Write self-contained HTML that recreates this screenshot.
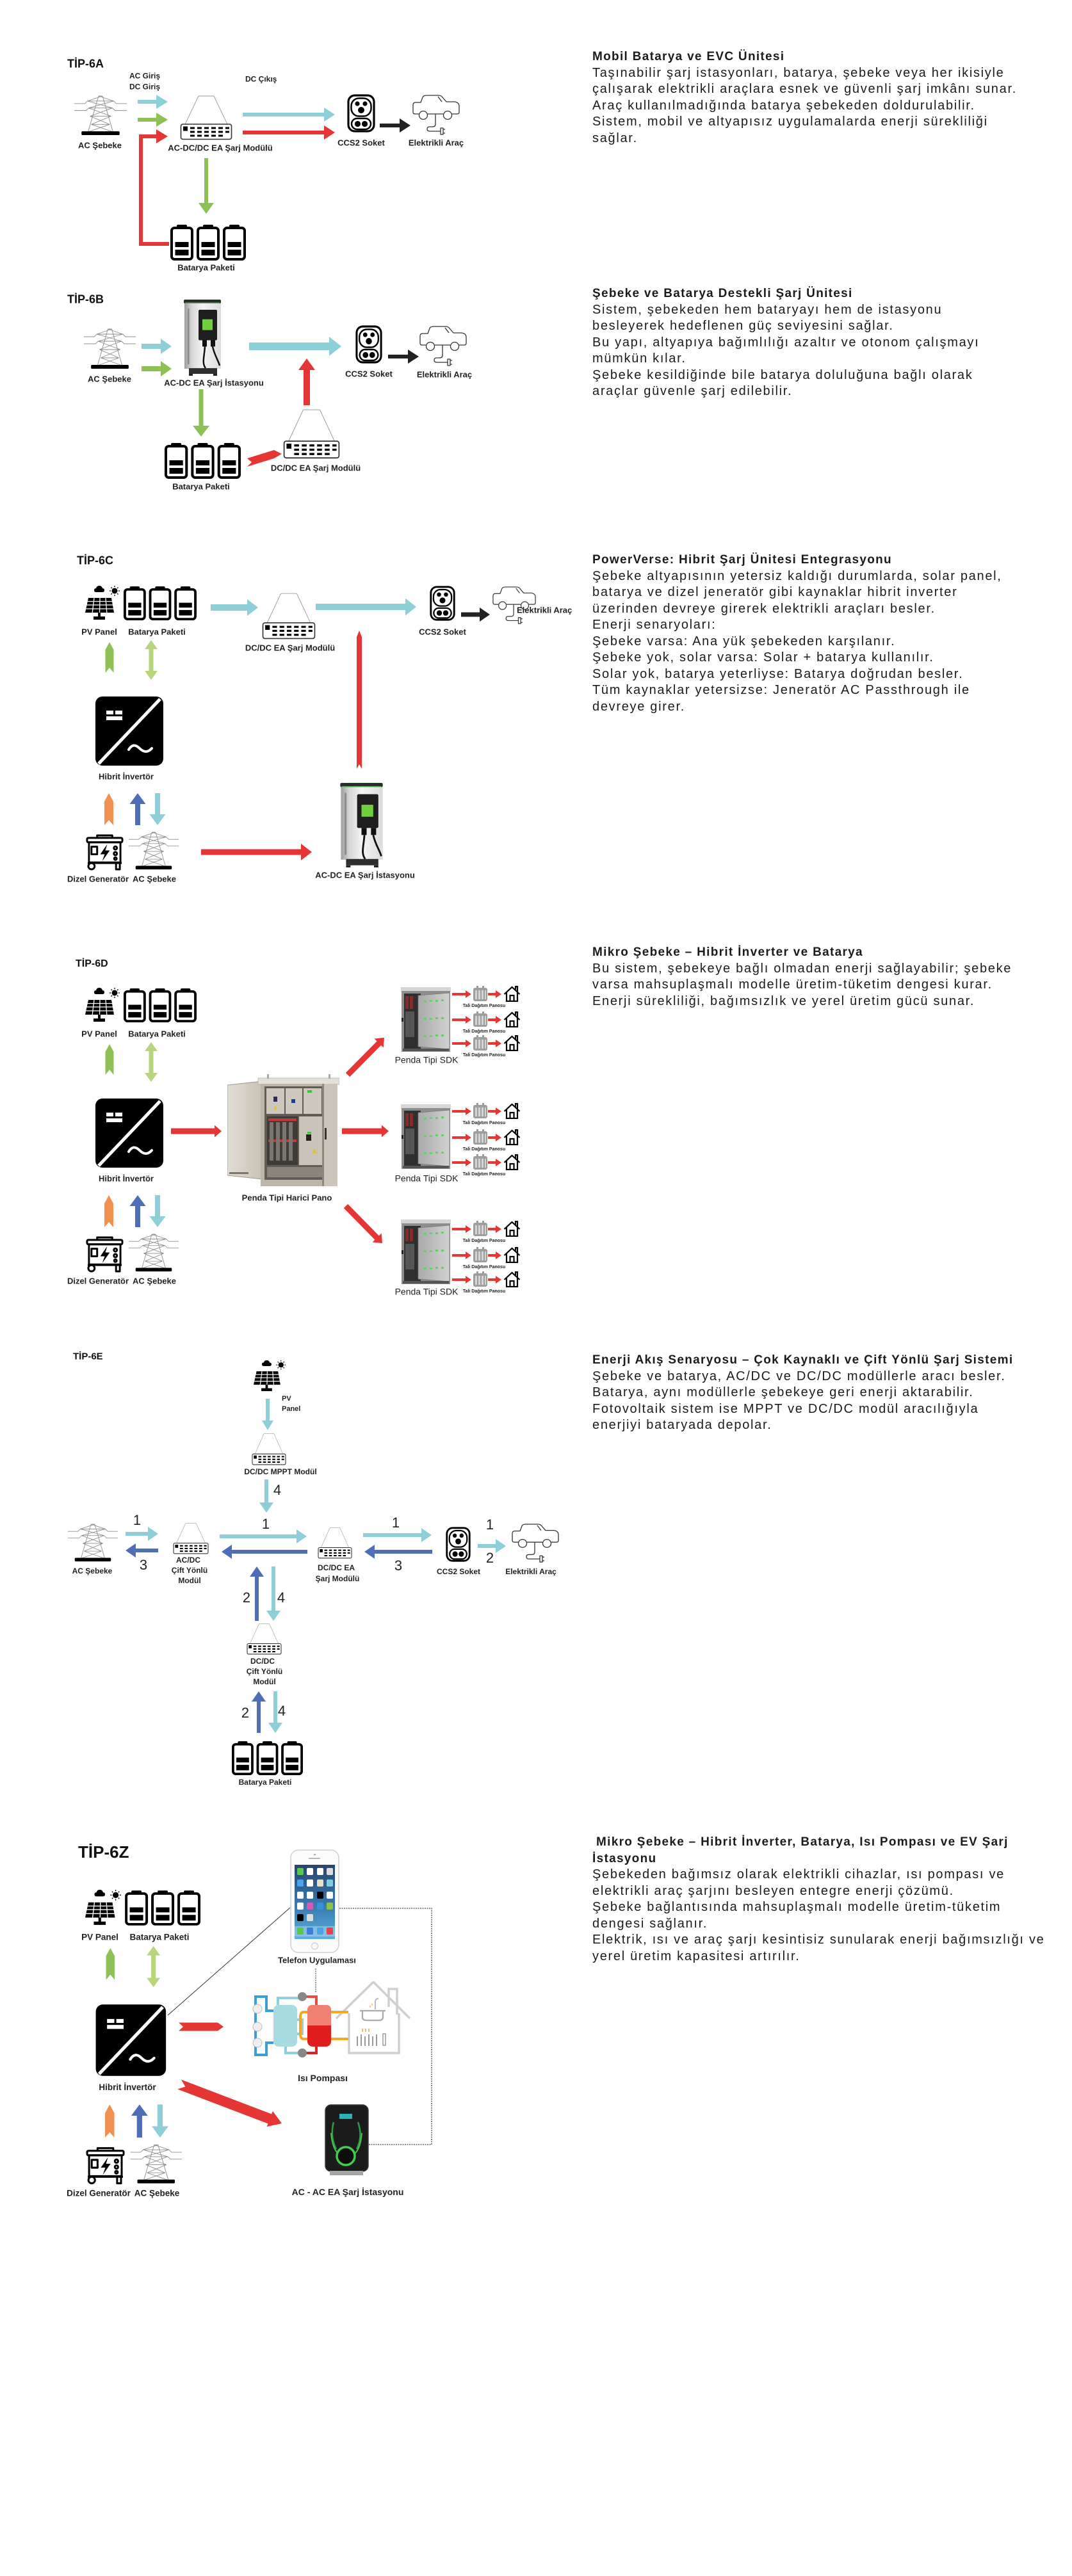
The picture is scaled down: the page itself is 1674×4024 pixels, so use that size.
<!DOCTYPE html>
<html><head><meta charset="utf-8">
<style>
html,body{margin:0;padding:0;background:#fff;}
body{width:1674px;height:4024px;position:relative;overflow:hidden;font-family:"Liberation Sans",Arial,sans-serif;}
svg.main{position:absolute;left:0;top:0;}
.tb{position:absolute;left:925px;color:#1b1b1b;font-size:20px;line-height:25.5px;letter-spacing:1.7px;white-space:nowrap;}
.tb .t{font-weight:bold;font-size:19px;letter-spacing:1.3px;}
</style></head><body>
<svg class="main" width="1674" height="4024" viewBox="0 0 1674 4024" xmlns="http://www.w3.org/2000/svg">
<style>
.l{font-family:"Liberation Sans",Arial,sans-serif;font-weight:bold;font-size:13px;fill:#222;text-anchor:middle;}
.s{font-family:"Liberation Sans",Arial,sans-serif;font-weight:bold;font-size:12px;fill:#222;text-anchor:middle;}
.n{font-family:"Liberation Sans",Arial,sans-serif;font-size:22px;fill:#222;text-anchor:middle;}
.tip{font-family:"Liberation Sans",Arial,sans-serif;font-weight:bold;font-size:18px;fill:#111;}
.tali{font-family:"Liberation Sans",Arial,sans-serif;font-weight:bold;font-size:7px;fill:#222;text-anchor:middle;}
</style>
<defs>
<linearGradient id="stg" x1="0" x2="1"><stop offset="0" stop-color="#9c9c9c"/><stop offset="0.2" stop-color="#d6d6d6"/><stop offset="0.5" stop-color="#f4f4f4"/><stop offset="1" stop-color="#dcdcdc"/></linearGradient>
<linearGradient id="scr" x1="0" y1="0" x2="0" y2="1"><stop offset="0" stop-color="#27446e"/><stop offset="0.6" stop-color="#3b7fb4"/><stop offset="1" stop-color="#5ab2dc"/></linearGradient>
<linearGradient id="door" x1="0" x2="1"><stop offset="0" stop-color="#e2ddd3"/><stop offset="1" stop-color="#c9c2b6"/></linearGradient>
<linearGradient id="sdkd" x1="0" x2="1"><stop offset="0" stop-color="#a9a9a9"/><stop offset="1" stop-color="#d2d2d2"/></linearGradient>

<symbol id="tower" viewBox="0 0 80 64" preserveAspectRatio="none">
<g fill="none" stroke="#8c8c8c" stroke-width="0.9">
<path d="M37 1H43M37 1L21 58M43 1L59 58"/>
<path d="M0 13H16L20 9H60L64 13H80"/>
<path d="M0 24H18L22 20H58L62 24H80"/>
<path d="M37 1L60 9M43 1L20 9M20 9L58 20M60 9L22 20M22 20L56 33M58 20L24 33M24 33H56M24 33L54 46M56 33L26 46M26 46H54M26 46L59 58M54 46L21 58"/>
</g>
<rect x="11" y="57" width="58" height="6" rx="1.5" fill="#000"/>
</symbol>

<symbol id="module" viewBox="0 0 82 70" preserveAspectRatio="none">
<path d="M29 1H53M29 1L8 45M53 1L74 45" fill="none" stroke="#9a9a9a" stroke-width="0.9"/>
<rect x="1.5" y="45" width="79" height="23.5" rx="3" fill="#fff" stroke="#333" stroke-width="1.6"/>
<rect x="5" y="48.5" width="7" height="7" fill="#000"/>
<g fill="#000">
<rect x="16" y="49.5" width="7" height="3"/><rect x="27" y="49.5" width="7" height="3"/><rect x="38" y="49.5" width="7" height="3"/><rect x="49" y="49.5" width="7" height="3"/><rect x="60" y="49.5" width="7" height="3"/><rect x="71" y="49.5" width="6" height="3"/>
<rect x="16" y="55.5" width="7" height="3"/><rect x="27" y="55.5" width="7" height="3"/><rect x="38" y="55.5" width="7" height="3"/><rect x="49" y="55.5" width="7" height="3"/><rect x="60" y="55.5" width="7" height="3"/><rect x="71" y="55.5" width="6" height="3"/>
<rect x="16" y="61.5" width="7" height="3"/><rect x="27" y="61.5" width="7" height="3"/><rect x="38" y="61.5" width="7" height="3"/><rect x="49" y="61.5" width="7" height="3"/><rect x="60" y="61.5" width="7" height="3"/>
</g>
</symbol>

<symbol id="ccs" viewBox="0 0 44 60" preserveAspectRatio="none">
<rect x="2" y="2" width="40" height="56" rx="10" fill="#fff" stroke="#000" stroke-width="3.2"/>
<rect x="6.5" y="6.5" width="31" height="28" rx="12" fill="none" stroke="#000" stroke-width="2.5"/>
<circle cx="16" cy="15" r="3.6"/><circle cx="28" cy="15" r="3.6"/><circle cx="22" cy="25" r="5"/>
<rect x="7" y="38" width="30" height="17" rx="8.5" fill="none" stroke="#000" stroke-width="2.5"/>
<circle cx="16.5" cy="46.5" r="4.6"/><circle cx="27.5" cy="46.5" r="4.6"/>
</symbol>

<symbol id="car" viewBox="0 0 74 64" preserveAspectRatio="none">
<g fill="none" stroke="#333" stroke-width="1.3" stroke-linejoin="round">
<path d="M10 30H4Q1 30 1 27V16Q1 12 5 12H13L16 4Q17 1 22 1H41Q45 1 47 4L53 11H66Q73 12 73 18V27Q73 30 70 30H62"/>
<path d="M48 30H24"/>
<circle cx="17" cy="32" r="6.5"/>
<circle cx="55" cy="32" r="6.5"/>
<path d="M40 3L46 11"/>
<path d="M36 30V46Q36 50 31 50H27Q23 50 23 53.5Q23 57 27 57H44"/>
<path d="M44 52H48V62H44Z"/>
<path d="M48 54H51M48 60H51"/>
</g>
</symbol>

<symbol id="bat3" viewBox="0 0 118 56" preserveAspectRatio="none">
<g>
<rect x="10" y="0" width="16" height="7" rx="2"/>
<rect x="2" y="5" width="32" height="49" rx="4.5" fill="#fff" stroke="#000" stroke-width="4"/>
<rect x="7.5" y="27" width="21" height="8"/><rect x="7.5" y="39" width="21" height="9"/>
</g>
<g transform="translate(41,0)">
<rect x="10" y="0" width="16" height="7" rx="2"/>
<rect x="2" y="5" width="32" height="49" rx="4.5" fill="#fff" stroke="#000" stroke-width="4"/>
<rect x="7.5" y="27" width="21" height="8"/><rect x="7.5" y="39" width="21" height="9"/>
</g>
<g transform="translate(82,0)">
<rect x="10" y="0" width="16" height="7" rx="2"/>
<rect x="2" y="5" width="32" height="49" rx="4.5" fill="#fff" stroke="#000" stroke-width="4"/>
<rect x="7.5" y="27" width="21" height="8"/><rect x="7.5" y="39" width="21" height="9"/>
</g>
</symbol>

<symbol id="pv" viewBox="0 0 57 55" preserveAspectRatio="none">
<path d="M17 11Q14 11 14 8Q14 5 17 5Q18 1 22 1Q26 1 27 5Q30 5 30 8Q30 11 27 11Z" fill="#000"/>
<circle cx="46" cy="9" r="4.5" fill="#000"/>
<path d="M46 1V3M46 15V17M38 9H40M52 9H54M40.5 3.5L42 5M50 13L51.5 14.5M51.5 3.5L50 5M42 13L40.5 14.5" stroke="#000" stroke-width="1.3"/>
<polygon points="5,20 41,20 45,43 0,43" fill="#000"/>
<path d="M3.8 25.5H42M2.5 31H43M1.2 37H44M14 20L11.2 43M23 20L22.5 43M32 20L33.8 43" stroke="#fff" stroke-width="1.3"/>
<rect x="20" y="43" width="4" height="7" fill="#000"/>
<rect x="13" y="49" width="18" height="5" fill="#000"/>
</symbol>

<symbol id="inv" viewBox="0 0 106 108" preserveAspectRatio="none">
<rect width="106" height="108" rx="11" fill="#000"/>
<path d="M101 4L5 105" stroke="#fff" stroke-width="5"/>
<rect x="17" y="22" width="11" height="6" fill="#fff"/>
<rect x="31" y="22" width="11" height="6" fill="#fff"/>
<rect x="17" y="31" width="25" height="6" fill="#fff"/>
<path d="M52 83Q59 71 69 81T88 81" stroke="#fff" stroke-width="4" fill="none" stroke-linecap="round"/>
</symbol>

<symbol id="gen" viewBox="0 0 60 58" preserveAspectRatio="none">
<g fill="none" stroke="#000" stroke-width="3" stroke-linejoin="round">
<path d="M18 6V2H42V6"/>
<rect x="2" y="6" width="56" height="7" rx="2"/>
<rect x="5" y="13" width="50" height="32"/>
<rect x="9" y="20" width="9" height="12"/>
<circle cx="47" cy="22" r="2.5"/><circle cx="47" cy="31" r="2.5"/><circle cx="47" cy="39" r="2"/>
<path d="M3 46H57"/>
<circle cx="9" cy="51" r="5"/>
<path d="M48 47V56H54V47"/>
</g>
<path d="M34 16L23 32H30L26 43L38 26H31Z" fill="#000"/>
</symbol>

<symbol id="station" viewBox="0 0 62 120" preserveAspectRatio="none">
<rect x="2" y="0" width="58" height="6" rx="2" fill="#2b2b2b"/>
<rect x="4" y="4.5" width="54" height="1.5" fill="#4cae4c"/>
<rect x="3" y="6" width="57" height="103" fill="url(#stg)"/>
<rect x="8" y="14" width="2.5" height="88" fill="#8a8a8a"/>
<rect x="25" y="16" width="29" height="48" rx="2" fill="#1e1e1e"/>
<rect x="31" y="31" width="16" height="17" fill="#6fd03c"/>
<path d="M31 64h7v10h-7zM44 64h7v10h-7z" fill="#111"/>
<path d="M35 74C34 90 30 100 36 108" stroke="#111" stroke-width="2.5" fill="none"/>
<path d="M47 74C50 88 56 96 58 104" stroke="#111" stroke-width="2.5" fill="none"/>
<rect x="10" y="108" width="44" height="9" fill="#2e2e2e"/>
<path d="M10 117h6v3h-6zM48 117h6v3h-6z" fill="#222"/>
</symbol>

<symbol id="cab" viewBox="0 0 175 178" preserveAspectRatio="none">
<polygon points="0,18 54,12 54,165 0,159" fill="url(#door)" stroke="#9d968b" stroke-width="1"/>
<rect x="3" y="154" width="30" height="3" fill="#777"/>
<rect x="48" y="7" width="127" height="10" fill="#e4e0d9" stroke="#b8b2a8" stroke-width="0.8"/>
<rect x="62" y="1" width="3" height="7" fill="#aaa"/><rect x="158" y="1" width="3" height="7" fill="#aaa"/>
<rect x="52" y="16" width="120" height="160" fill="#bcb5aa"/>
<rect x="58" y="20" width="92" height="146" fill="#5f5b55"/>
<rect x="61" y="23" width="28" height="40" fill="#cdc7bd"/>
<rect x="91" y="23" width="26" height="40" fill="#cdc7bd"/>
<rect x="119" y="23" width="28" height="40" fill="#cdc7bd"/>
<rect x="72" y="36" width="6" height="8" fill="#2a2a60"/>
<rect x="125" y="26" width="7" height="4" fill="#3ec43e"/>
<rect x="100" y="40" width="6" height="6" fill="#1e3c9e"/>
<polygon points="72,56 75,50 78,56" fill="#e8c02a"/>
<rect x="62" y="67" width="48" height="76" fill="#3f3c38"/>
<rect x="64" y="70" width="44" height="4" fill="#c23a3a"/>
<rect x="64" y="103" width="44" height="4" fill="#c23a3a"/>
<rect x="66" y="76" width="6" height="60" fill="#7a766f"/><rect x="76" y="76" width="6" height="60" fill="#7a766f"/><rect x="86" y="76" width="6" height="60" fill="#7a766f"/><rect x="96" y="76" width="6" height="60" fill="#7a766f"/>
<rect x="112" y="67" width="36" height="76" fill="#c9c3b9"/>
<rect x="123" y="95" width="8" height="10" fill="#222"/><rect x="125" y="91" width="6" height="3" fill="#3ec43e"/>
<polygon points="132,125 136,117 140,125" fill="#e8c02a"/>
<rect x="62" y="146" width="86" height="16" fill="#8a857c"/>
<rect x="150" y="16" width="22" height="160" fill="#cbc5bb"/>
<rect x="148" y="16" width="3" height="160" fill="#8d877d"/>
<rect x="152" y="85" width="3" height="18" fill="#333"/>
</symbol>

<symbol id="sdk" viewBox="0 0 78 102" preserveAspectRatio="none">
<rect x="0" y="0" width="78" height="7" fill="#d6d6d6"/>
<rect x="1" y="6" width="76" height="95" fill="#8d8d8d"/>
<rect x="5" y="10" width="26" height="86" fill="#2f2f2f"/>
<rect x="7" y="14" width="5" height="20" fill="#8a2b2b"/><rect x="14" y="14" width="5" height="20" fill="#8a2b2b"/>
<rect x="7" y="38" width="14" height="40" fill="#555"/>
<polygon points="27,13 76,9 76,97 27,93" fill="url(#sdkd)" stroke="#777" stroke-width="0.7"/>
<g fill="#5fd35f">
<rect x="36" y="21" width="4" height="3"/><rect x="45" y="20" width="4" height="3"/><rect x="54" y="20" width="4" height="3"/><rect x="63" y="19" width="4" height="3"/>
<rect x="36" y="48" width="4" height="3"/><rect x="45" y="48" width="4" height="3"/><rect x="54" y="47" width="4" height="3"/><rect x="63" y="47" width="4" height="3"/>
<rect x="36" y="75" width="4" height="3"/><rect x="45" y="75" width="4" height="3"/><rect x="54" y="74" width="4" height="3"/><rect x="63" y="74" width="4" height="3"/>
</g>
<rect x="3" y="96" width="72" height="4" fill="#555"/>
<rect x="1" y="48" width="3" height="6" fill="#222"/>
</symbol>

<symbol id="tali" viewBox="0 0 24 25" preserveAspectRatio="none">
<rect x="6" y="0" width="3" height="4" fill="#999"/><rect x="15" y="0" width="3" height="4" fill="#999"/>
<rect x="1" y="3" width="22" height="21" rx="3" fill="#9e9e9e"/>
<rect x="4" y="7" width="3" height="14" fill="#d4d4d4"/><rect x="9" y="7" width="3" height="14" fill="#d4d4d4"/><rect x="14" y="7" width="3" height="14" fill="#d4d4d4"/><rect x="19" y="7" width="2" height="14" fill="#d4d4d4"/>
</symbol>

<symbol id="house" viewBox="0 0 27 25" preserveAspectRatio="none">
<g fill="none" stroke="#000" stroke-width="2.2">
<path d="M1.5 13L13.5 2L25.5 13"/>
<path d="M5 10V24H22V10"/>
<path d="M10.5 24V15H16.5V24"/>
<path d="M19 6V1H22V9"/>
</g>
</symbol>

<symbol id="phone" viewBox="0 0 77 162" preserveAspectRatio="none">
<rect x="1" y="1" width="75" height="160" rx="12" fill="#fbfbfb" stroke="#cfcfcf" stroke-width="1.5"/>
<rect x="29" y="13" width="18" height="2" rx="1" fill="#b5b5b5"/>
<circle cx="38.5" cy="8" r="1.3" fill="#999"/>
<rect x="7" y="24" width="63" height="116" fill="url(#scr)"/>
<rect x="11" y="29" width="10" height="11" rx="2" fill="#5ac84e"/><rect x="26" y="29" width="10" height="11" rx="2" fill="#fff"/><rect x="42" y="29" width="10" height="11" rx="2" fill="#fff"/><rect x="57" y="29" width="10" height="11" rx="2" fill="#ddd"/>
<rect x="11" y="47" width="10" height="11" rx="2" fill="#4aa3e8"/><rect x="26" y="47" width="10" height="11" rx="2" fill="#fff"/><rect x="42" y="47" width="10" height="11" rx="2" fill="#e8e1c9"/><rect x="57" y="47" width="10" height="11" rx="2" fill="#7fd0e3"/>
<rect x="11" y="66" width="10" height="11" rx="2" fill="#fff"/><rect x="26" y="66" width="10" height="11" rx="2" fill="#fff"/><rect x="42" y="66" width="10" height="11" rx="2" fill="#000"/><rect x="57" y="66" width="10" height="11" rx="2" fill="#fff"/>
<rect x="11" y="83" width="10" height="11" rx="2" fill="#fff"/><rect x="26" y="83" width="10" height="11" rx="2" fill="#d45bb3"/><rect x="42" y="83" width="10" height="11" rx="2" fill="#3a8fd9"/><rect x="57" y="83" width="10" height="11" rx="2" fill="#8bc34a"/>
<rect x="11" y="101" width="10" height="11" rx="2" fill="#000"/><rect x="26" y="101" width="10" height="11" rx="2" fill="#ddd"/>
<rect x="7" y="120" width="63" height="16" fill="#a8cfe8" opacity="0.6"/>
<rect x="11" y="122" width="10" height="11" rx="2" fill="#5ac84e"/><rect x="26" y="122" width="10" height="11" rx="2" fill="#3a7fd9"/><rect x="42" y="122" width="10" height="11" rx="2" fill="#4aa3e8"/><rect x="57" y="122" width="10" height="11" rx="2" fill="#e8434a"/>
<circle cx="38.5" cy="151" r="5" fill="none" stroke="#ccc" stroke-width="1.2"/>
</symbol>

<symbol id="heat" viewBox="0 0 249 119" preserveAspectRatio="none">
<path d="M131 58L189 1L246 58" fill="none" stroke="#cfcfcf" stroke-width="3.5"/>
<path d="M151 50V112H229V50" fill="none" stroke="#cfcfcf" stroke-width="3.5"/>
<path d="M213 40V12H226V52" fill="none" stroke="#cfcfcf" stroke-width="3.5"/>
<path d="M168 46H208M172 46V56Q172 61 178 61H198Q204 61 204 56V46" stroke="#aaa" fill="none" stroke-width="2.2"/>
<path d="M192 44V32Q192 27 197 27" stroke="#aaa" fill="none" stroke-width="1.6"/>
<path d="M187 35V38M184 38V41" stroke="#f3c13a" stroke-width="1.5"/>
<path d="M164 86V101M170 83V101M176 86V101M182 83V101M188 86V101M194 83V101" stroke="#999" stroke-width="2"/>
<rect x="204" y="82" width="4" height="18" fill="none" stroke="#999" stroke-width="1.5"/>
<path d="M172 74V79M177 74V79M182 74V79" stroke="#f3a33a" stroke-width="1.5"/>
<path d="M33 46H22V24H5V115H22V96H33" fill="none" stroke="#3a9edb" stroke-width="4"/>
<circle cx="8" cy="43" r="7" fill="#eee" stroke="#bbb"/><circle cx="8" cy="71" r="7" fill="#eee" stroke="#bbb"/><circle cx="8" cy="96" r="7" fill="#eee" stroke="#bbb"/>
<path d="M40 37V26H78M70 60H78V82H70M52 102V112H78" fill="none" stroke="#8fd0e0" stroke-width="4"/>
<rect x="33" y="37" width="37" height="65" rx="8" fill="#a9dbe3"/>
<path d="M78 24H100V37" fill="none" stroke="#e84c3d" stroke-width="4"/>
<path d="M78 112H100V102" fill="none" stroke="#e02222" stroke-width="4"/>
<path d="M86 48H80Q75 48 75 56V82Q75 90 80 90H86M123 48H150M123 90H150" fill="none" stroke="#f5a623" stroke-width="4"/>
<rect x="86" y="37" width="37" height="65" rx="8" fill="#e01e1e"/>
<path d="M86 69V45Q86 37 94 37H115Q123 37 123 45V69Z" fill="#f08070"/>
<circle cx="78" cy="24" r="7" fill="#888"/><circle cx="78" cy="112" r="7" fill="#888"/>
</symbol>

<symbol id="wallbox" viewBox="0 0 69 112" preserveAspectRatio="none">
<rect x="1" y="1" width="67" height="104" rx="9" fill="#1b1b1b" stroke="#3a3a3a" stroke-width="1.5"/>
<rect x="23" y="15" width="20" height="8" fill="#2bb3b8"/>
<path d="M14 28Q8 50 18 70" stroke="#2e9e46" stroke-width="2.5" fill="none"/>
<path d="M52 28Q60 50 50 70" stroke="#2e9e46" stroke-width="2.5" fill="none"/>
<path d="M10 45Q12 70 22 78M58 45Q56 70 46 78" stroke="#49c24a" stroke-width="2" fill="none"/>
<circle cx="33" cy="81" r="14" fill="#0d0d0d" stroke="#3fd04a" stroke-width="3.5"/>
<rect x="8" y="104" width="52" height="7" fill="#a5a5a5"/>
</symbol>

<g id="leftcol">
<use href="#pv" x="133" y="914" width="57" height="55"/>
<use href="#bat3" x="193" y="916" width="114" height="53"/>
<polygon fill="#8dc055" points="171,1003 177.5,1015 177.5,1051 171,1043 164.5,1051 164.5,1015"/>
<polygon fill="#b7d57b" points="236,1000 246,1014 239.5,1014 239.5,1048 246,1048 236,1062 226,1048 232.5,1048 232.5,1014 226,1014"/>
<use href="#inv" x="149" y="1088" width="106" height="108"/>
<polygon fill="#f0914f" points="170,1239 177,1252 177,1289 170,1281 163,1289 163,1252"/>
<polygon fill="#4e6fb5" points="215,1239 227.5,1256 219,1256 219,1289 211,1289 211,1256 202.5,1256"/>
<polygon fill="#8ccfd9" points="242,1239 250,1239 250,1272 258.5,1272 246,1289 233.5,1272 242,1272"/>
<use href="#gen" x="134" y="1303" width="59" height="57"/>
<use href="#tower" x="201" y="1299" width="78" height="60"/>
</g>

<g id="trow">
<polygon fill="#e53535" points="706,-2 727,-2 727,-6 736,0 727,6 727,2 706,2"/>
<use href="#tali" x="738" y="-13" width="24" height="25"/>
<polygon fill="#e53535" points="762,-2 774,-2 774,-6 783,0 774,6 774,2 762,2"/>
<use href="#house" x="786" y="-13" width="27" height="25"/>
</g>
</defs>

<!-- ===== TİP-6A ===== -->
<text class="tip" x="105" y="105.5">TİP-6A</text>
<text class="s" x="202" y="122.5" style="text-anchor:start">AC Giriş</text>
<text class="s" x="202" y="139.5" style="text-anchor:start">DC Giriş</text>
<text class="s" x="383" y="127.5" style="text-anchor:start">DC Çıkış</text>
<use href="#tower" x="116" y="149" width="82" height="63"/>
<text class="l" x="156" y="231.5">AC Şebeke</text>
<polygon fill="#8ccfd9" points="215,156 244,156 244,148 262,159 244,170 244,162 215,162"/>
<polygon fill="#8dc055" points="215,184 244,184 244,176 262,187 244,198 244,190 215,190"/>
<polygon fill="#e53535" points="217,210 244,210 244,202 262,213 244,224 244,216 217,216"/>
<polyline points="220,211 220,381 264,381" fill="none" stroke="#e53535" stroke-width="6"/>
<use href="#module" x="281" y="149" width="82" height="70"/>
<text class="l" x="344" y="235.5">AC-DC/DC EA Şarj Modülü</text>
<polygon fill="#8ccfd9" points="379,176 506,176 506,168 523,179 506,190 506,182 379,182"/>
<polygon fill="#e53535" points="379,204 506,204 506,196 523,207 506,218 506,210 379,210"/>
<use href="#ccs" x="542" y="147" width="44" height="60"/>
<polygon fill="#222" points="593,193 624,193 624,185 641,196 624,207 624,199 593,199"/>
<use href="#car" x="644" y="148" width="74" height="64"/>
<text class="l" x="564" y="227.5">CCS2 Soket</text>
<text class="l" x="681" y="227.5">Elektrikli Araç</text>
<polygon fill="#8dc055" points="319,247 325,247 325,317 334,317 322,334 310,317 319,317"/>
<use href="#bat3" x="266" y="351" width="118" height="56"/>
<text class="l" x="322" y="422.5">Batarya Paketi</text>

<!-- ===== TİP-6B ===== -->
<text class="tip" x="105" y="473.5">TİP-6B</text>
<use href="#tower" x="131" y="513" width="81" height="64"/>
<text class="l" x="171" y="596.5">AC Şebeke</text>
<polygon fill="#8ccfd9" points="221,537 251,537 251,529 268,541 251,553 251,545 221,545"/>
<polygon fill="#8dc055" points="221,572 251,572 251,564 268,576 251,588 251,580 221,580"/>
<use href="#station" x="285" y="468" width="62" height="119"/>
<text class="l" x="334" y="602.5">AC-DC EA Şarj İstasyonu</text>
<polygon fill="#8ccfd9" points="389,535 514,535 514,526 533,541 514,556 514,547 389,547"/>
<use href="#ccs" x="555" y="508" width="42" height="60"/>
<text class="l" x="576" y="588.5">CCS2 Soket</text>
<polygon fill="#222" points="606,554 637,554 637,546 654,557 637,568 637,560 606,560"/>
<use href="#car" x="655" y="509" width="74" height="64"/>
<text class="l" x="694" y="589.5">Elektrikli Araç</text>
<polygon fill="#e53535" points="474,633 474,578 466,578 479,560 492,578 484,578 484,633"/>
<polygon fill="#8dc055" points="310.5,608 317.5,608 317.5,665 327,665 314,682 301,665 310.5,665"/>
<use href="#bat3" x="257" y="692" width="119" height="56"/>
<text class="l" x="314" y="764.5">Batarya Paketi</text>
<use href="#module" x="442" y="639" width="89" height="78"/>
<text class="l" x="493" y="735.5">DC/DC EA Şarj Modülü</text>
<polygon fill="#e53535" points="386,716 428,703 440,709 428,716 386,729 393,722"/>

<!-- ===== TİP-6C ===== -->
<text class="tip" x="120" y="881.5">TİP-6C</text>
<use href="#leftcol"/>
<text class="l" x="155" y="991.5">PV Panel</text>
<text class="l" x="245" y="991.5">Batarya Paketi</text>
<text class="l" x="197" y="1217.5">Hibrit İnvertör</text>
<text class="l" x="153" y="1377.5">Dizel Generatör</text>
<text class="l" x="241" y="1377.5">AC Şebeke</text>
<polygon fill="#8ccfd9" points="329,944 386,944 386,936 403,949 386,962 386,954 329,954"/>
<use href="#module" x="409" y="926" width="84" height="73"/>
<text class="l" x="453" y="1016.5">DC/DC EA Şarj Modülü</text>
<polygon fill="#8ccfd9" points="493,943 633,943 633,934.5 650,948 633,961.5 633,953 493,953"/>
<use href="#ccs" x="671" y="915" width="40" height="55"/>
<text class="l" x="691" y="991.5">CCS2 Soket</text>
<polygon fill="#222" points="720,956.5 749,956.5 749,949 765,960 749,971 749,963.5 720,963.5"/>
<use href="#car" x="769" y="916" width="68" height="60"/>
<text class="l" x="807" y="957.5" style="text-anchor:start">Elektrikli Araç</text>
<polygon fill="#e53535" points="561,985 565,995 565,1201 561,1194 557,1201 557,995"/>
<polygon fill="#e53535" points="314,1326.5 470,1326.5 470,1318 487,1331 470,1344 470,1335.5 314,1335.5"/>
<use href="#station" x="529" y="1223" width="71" height="132"/>
<text class="l" x="570" y="1371.5">AC-DC EA Şarj İstasyonu</text>

<!-- ===== TİP-6D ===== -->
<text class="tip" x="118" y="1510" style="font-size:16px">TİP-6D</text>
<use href="#leftcol" y="628"/>
<text class="l" x="155" y="1619.5">PV Panel</text>
<text class="l" x="245" y="1619.5">Batarya Paketi</text>
<text class="l" x="197" y="1845.5">Hibrit İnvertör</text>
<text class="l" x="153" y="2005.5">Dizel Generatör</text>
<text class="l" x="241" y="2005.5">AC Şebeke</text>
<polygon fill="#e53535" points="267,1762.5 335,1762.5 335,1757.5 346,1767 335,1776.5 335,1771.5 267,1771.5"/>
<use href="#cab" x="355" y="1677" width="175" height="178"/>
<text class="l" x="448" y="1875.5">Penda Tipi Harici Pano</text>
<polygon fill="#e53535" points="534,1762.5 596,1762.5 596,1757.5 607,1767 596,1776.5 596,1771.5 534,1771.5"/>
<line x1="543" y1="1679" x2="593" y2="1628.5" stroke="#e53535" stroke-width="9"/>
<polygon fill="#e53535" points="600,1621 598.7,1636.5 584.5,1622.5"/>
<line x1="540" y1="1884" x2="590" y2="1935" stroke="#e53535" stroke-width="9"/>
<polygon fill="#e53535" points="597,1942 581.5,1940.5 595.7,1926.5"/>
<use href="#sdk" x="626" y="1542" width="78" height="102"/>
<use href="#sdk" x="626" y="1725" width="78" height="102"/>
<use href="#sdk" x="626" y="1905" width="78" height="102"/>
<text class="l" x="666" y="1660.5" style="font-weight:normal;font-size:14px">Penda Tipi SDK</text>
<text class="l" x="666" y="1845.5" style="font-weight:normal;font-size:14px">Penda Tipi SDK</text>
<text class="l" x="666" y="2022.5" style="font-weight:normal;font-size:14px">Penda Tipi SDK</text>
<use href="#trow" y="1553"/><use href="#trow" y="1593"/><use href="#trow" y="1630"/>
<use href="#trow" y="1736"/><use href="#trow" y="1777"/><use href="#trow" y="1816"/>
<use href="#trow" y="1920"/><use href="#trow" y="1961"/><use href="#trow" y="1999"/>
<text class="tali" x="756" y="1573">Tali Dağıtım Panosu</text>
<text class="tali" x="756" y="1613">Tali Dağıtım Panosu</text>
<text class="tali" x="756" y="1650">Tali Dağıtım Panosu</text>
<text class="tali" x="756" y="1756">Tali Dağıtım Panosu</text>
<text class="tali" x="756" y="1797">Tali Dağıtım Panosu</text>
<text class="tali" x="756" y="1836">Tali Dağıtım Panosu</text>
<text class="tali" x="756" y="1940">Tali Dağıtım Panosu</text>
<text class="tali" x="756" y="1981">Tali Dağıtım Panosu</text>
<text class="tali" x="756" y="2019">Tali Dağıtım Panosu</text>

<!-- ===== TİP-6E ===== -->
<text class="tip" x="114" y="2123.5" style="font-size:15px">TİP-6E</text>
<use href="#pv" x="396" y="2124" width="53" height="50"/>
<text class="s" x="440" y="2188" style="text-anchor:start;font-size:11px">PV</text>
<text class="s" x="440" y="2204" style="text-anchor:start;font-size:11px">Panel</text>
<polygon fill="#8ccfd9" points="415,2185 421,2185 421,2219 427,2219 418,2234 409,2219 415,2219"/>
<use href="#module" x="393" y="2239" width="54" height="50"/>
<text class="s" x="438" y="2303">DC/DC MPPT Modül</text>
<polygon fill="#8ccfd9" points="413,2311 419,2311 419,2347 427,2347 416,2363 405,2347 413,2347"/>
<text class="n" x="433" y="2335">4</text>
<use href="#tower" x="106" y="2380" width="78" height="60"/>
<text class="s" x="144" y="2458">AC Şebeke</text>
<polygon fill="#8ccfd9" points="196,2393 231,2393 231,2385 247,2396 231,2407 231,2399 196,2399"/>
<text class="n" x="214" y="2382">1</text>
<polygon fill="#4e6fb5" points="247,2419 212,2419 212,2411 196,2422 212,2433 212,2425 247,2425"/>
<text class="n" x="224" y="2452">3</text>
<use href="#module" x="270" y="2379" width="56" height="49"/>
<text class="s" x="294" y="2441">AC/DC</text>
<text class="s" x="296" y="2457">Çift Yönlü</text>
<text class="s" x="296" y="2473">Modül</text>
<polygon fill="#8ccfd9" points="343,2397 463,2397 463,2389 479,2400 463,2411 463,2403 343,2403"/>
<text class="n" x="415" y="2388">1</text>
<polygon fill="#4e6fb5" points="480,2421 362,2421 362,2413 346,2424 362,2435 362,2427 480,2427"/>
<use href="#module" x="496" y="2386" width="54" height="49"/>
<text class="s" x="525" y="2453">DC/DC EA</text>
<text class="s" x="527" y="2470">Şarj Modülü</text>
<polygon fill="#8ccfd9" points="567,2395 658,2395 658,2387 674,2398 658,2409 658,2401 567,2401"/>
<text class="n" x="618" y="2386">1</text>
<polygon fill="#4e6fb5" points="675,2421 585,2421 585,2413 569,2424 585,2435 585,2427 675,2427"/>
<text class="n" x="622" y="2453">3</text>
<use href="#ccs" x="696" y="2385" width="39" height="55"/>
<text class="s" x="716" y="2459">CCS2 Soket</text>
<polygon fill="#8ccfd9" points="746,2412 774,2412 774,2404 790,2415 774,2426 774,2418 746,2418"/>
<text class="n" x="765" y="2389">1</text>
<text class="n" x="765" y="2441">2</text>
<use href="#car" x="799" y="2380" width="74" height="62"/>
<text class="s" x="829" y="2459">Elektrikli Araç</text>
<polygon fill="#4e6fb5" points="398,2532 398,2463 390,2463 401,2447 412,2463 404,2463 404,2532"/>
<polygon fill="#8ccfd9" points="424,2447 430,2447 430,2516 438,2516 427,2532 416,2516 424,2516"/>
<text class="n" x="385" y="2503">2</text>
<text class="n" x="439" y="2503">4</text>
<use href="#module" x="385" y="2536" width="55" height="49"/>
<text class="s" x="410" y="2599">DC/DC</text>
<text class="s" x="413" y="2615">Çift Yönlü</text>
<text class="s" x="413" y="2631">Modül</text>
<polygon fill="#4e6fb5" points="401,2707 401,2658 393,2658 404,2642 415,2658 407,2658 407,2707"/>
<polygon fill="#8ccfd9" points="427,2642 433,2642 433,2691 441,2691 430,2707 419,2691 427,2691"/>
<text class="n" x="383" y="2683">2</text>
<text class="n" x="440" y="2680">4</text>
<use href="#bat3" x="362" y="2720" width="111" height="53"/>
<text class="s" x="414" y="2788">Batarya Paketi</text>

<!-- ===== TİP-6Z ===== -->
<text class="tip" x="122" y="2902" style="font-size:26px">TİP-6Z</text>
<use href="#leftcol" transform="translate(133,2951) scale(1.035) translate(-133,-914)"/>
<text class="l" x="156" y="3030.5" style="font-size:13.5px">PV Panel</text>
<text class="l" x="249" y="3030.5" style="font-size:13.5px">Batarya Paketi</text>
<text class="l" x="199" y="3265" style="font-size:13.5px">Hibrit İnvertör</text>
<text class="l" x="154" y="3430.5" style="font-size:13.5px">Dizel Generatör</text>
<text class="l" x="245" y="3430.5" style="font-size:13.5px">AC Şebeke</text>
<line x1="262" y1="3148" x2="453" y2="2980" stroke="#333" stroke-width="1"/>
<polyline points="530,2981 674,2981 674,3350 576,3350" fill="none" stroke="#444" stroke-width="1.3" stroke-dasharray="2 1.5"/>
<line x1="493" y1="3075" x2="493" y2="3112" stroke="#444" stroke-width="1.1" stroke-dasharray="2 1.5"/>
<use href="#phone" x="453" y="2889" width="77" height="162"/>
<text class="l" x="495" y="3066.5">Telefon Uygulaması</text>
<use href="#heat" x="394" y="3095" width="249" height="119"/>
<text class="l" x="504" y="3251" style="font-size:14px">Isı Pompası</text>
<polygon fill="#e53535" points="279,3159.5 340,3159.5 349,3166 340,3172.5 279,3172.5 286,3166"/>
<polygon fill="#e53535" points="282.8,3248.5 424.1,3302.4 425.9,3297.7 440,3317 416.7,3322.1 418.5,3317.4 277.2,3263.5 289.4,3259.6"/>
<use href="#wallbox" x="507" y="3287" width="69" height="112"/>
<text class="l" x="543" y="3429" style="font-size:14px">AC - AC EA Şarj İstasyonu</text>
</svg>

<div class="tb" style="top:76px">
<div class="t">Mobil Batarya ve EVC Ünitesi</div>
<div>Taşınabilir şarj istasyonları, batarya, şebeke veya her ikisiyle</div>
<div>çalışarak elektrikli araçlara esnek ve güvenli şarj imkânı sunar.</div>
<div>Araç kullanılmadığında batarya şebekeden doldurulabilir.</div>
<div>Sistem, mobil ve altyapısız uygulamalarda enerji sürekliliği</div>
<div>sağlar.</div>
</div>

<div class="tb" style="top:446px">
<div class="t">Şebeke ve Batarya Destekli Şarj Ünitesi</div>
<div>Sistem, şebekeden hem bataryayı hem de istasyonu</div>
<div>besleyerek hedeflenen güç seviyesini sağlar.</div>
<div>Bu yapı, altyapıya bağımlılığı azaltır ve otonom çalışmayı</div>
<div>mümkün kılar.</div>
<div>Şebeke kesildiğinde bile batarya doluluğuna bağlı olarak</div>
<div>araçlar güvenle şarj edilebilir.</div>
</div>

<div class="tb" style="top:862px">
<div class="t">PowerVerse: Hibrit Şarj Ünitesi Entegrasyonu</div>
<div>Şebeke altyapısının yetersiz kaldığı durumlarda, solar panel,</div>
<div>batarya ve dizel jeneratör gibi kaynaklar hibrit inverter</div>
<div>üzerinden devreye girerek elektrikli araçları besler.</div>
<div>Enerji senaryoları:</div>
<div>Şebeke varsa: Ana yük şebekeden karşılanır.</div>
<div>Şebeke yok, solar varsa: Solar + batarya kullanılır.</div>
<div>Solar yok, batarya yeterliyse: Batarya doğrudan besler.</div>
<div>Tüm kaynaklar yetersizse: Jeneratör AC Passthrough ile</div>
<div>devreye girer.</div>
</div>

<div class="tb" style="top:1475px">
<div class="t">Mikro Şebeke – Hibrit İnverter ve Batarya</div>
<div>Bu sistem, şebekeye bağlı olmadan enerji sağlayabilir; şebeke</div>
<div>varsa mahsuplaşmalı modelle üretim-tüketim dengesi kurar.</div>
<div>Enerji sürekliliği, bağımsızlık ve yerel üretim gücü sunar.</div>
</div>

<div class="tb" style="top:2112px">
<div class="t">Enerji Akış Senaryosu – Çok Kaynaklı ve Çift Yönlü Şarj Sistemi</div>
<div>Şebeke ve batarya, AC/DC ve DC/DC modüllerle aracı besler.</div>
<div>Batarya, aynı modüllerle şebekeye geri enerji aktarabilir.</div>
<div>Fotovoltaik sistem ise MPPT ve DC/DC modül aracılığıyla</div>
<div>enerjiyi bataryada depolar.</div>
</div>

<div class="tb" style="top:2865px">
<div class="t" style="padding-left:6px">Mikro Şebeke – Hibrit İnverter, Batarya, Isı Pompası ve EV Şarj</div>
<div class="t">İstasyonu</div>
<div>Şebekeden bağımsız olarak elektrikli cihazlar, ısı pompası ve</div>
<div>elektrikli araç şarjını besleyen entegre enerji çözümü.</div>
<div>Şebeke bağlantısında mahsuplaşmalı modelle üretim-tüketim</div>
<div>dengesi sağlanır.</div>
<div>Elektrik, ısı ve araç şarjı kesintisiz sunularak enerji bağımsızlığı ve</div>
<div>yerel üretim kapasitesi artırılır.</div>
</div>
</body></html>
